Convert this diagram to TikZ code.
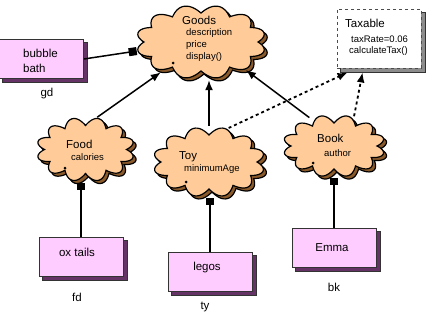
\documentclass[tikz,border=0pt]{standalone}
\usepackage{fontspec}
\setmainfont{Liberation Sans}
\usetikzlibrary{arrows.meta,shapes.geometric,backgrounds}
\definecolor{peach}{HTML}{FFCC99}
\definecolor{cbrown}{HTML}{8B5A2B}
\definecolor{boxpink}{HTML}{FFCCFF}
\definecolor{boxshade}{HTML}{663366}
\newcommand\wavy[5]{plot[domain=0:358,samples=180,smooth cycle] ({#1+(#3-8+8*abs(sin(#5*\x)))*cos(\x)},{#2+(#4-8+8*abs(sin(#5*\x)))*sin(\x)})}
\newcommand\drawcloud[5]{%
  \draw[fill=cbrown,line width=1.2pt,shift={(3,3)}] \wavy{#1}{#2}{#3}{#4}{#5};
  \draw[fill=peach,line width=1.2pt] \wavy{#1}{#2}{#3}{#4}{#5};}
\newcommand\boxshadow[2]{%
  \begin{scope}[on background layer]
  \draw[fill=#2,draw=black!80,line width=0.8pt] ([xshift=3.5pt,yshift=-3.5pt]#1.south west) rectangle ([xshift=3.5pt,yshift=-3.5pt]#1.north east);
  \end{scope}}
\tikzset{
  cloudnode/.style={ellipse,draw=none,inner sep=0pt},
  namefont/.style={font=\fontsize{11.5}{13}\selectfont,inner sep=0pt},
  attrfont/.style={font=\fontsize{9.5}{11}\selectfont,inner sep=0pt},
  objbox/.style={draw=black!80,fill=boxpink,line width=0.8pt,minimum width=84pt,minimum height=39pt,inner sep=0pt},
  taxbox/.style={draw=black!70,dashed,fill=white,line width=0.9pt,minimum width=84pt,minimum height=59pt,inner sep=0pt},
  inherit/.style={line width=1.5pt,-{Latex[length=10pt,width=8pt]}},
  realize/.style={line width=1.8pt,dash pattern=on 3pt off 3pt,-{Latex[length=10pt,width=8pt]}},
  compose/.style={line width=1.5pt,-{Square[length=7pt,width=8pt]}},
  cdot/.style={circle,fill=black,inner sep=0pt,minimum size=3pt}
}
\begin{document}
\begin{tikzpicture}[x=1pt,y=-1pt]
\useasboundingbox (0,0) rectangle (427,313);
% clouds
\drawcloud{201}{42}{65}{37}{6}
\drawcloud{85.5}{149.5}{49}{32}{6}
\drawcloud{209}{162}{56}{35}{6}
\drawcloud{334}{146}{51}{31}{6}
\node[cdot] (gdot) at (173,63) {};
\node[cdot] (fdot) at (65,168) {};
\node[cdot] (tdot) at (186,182) {};
\node[cdot] (bdot) at (313,163) {};
\node[cloudnode,minimum width=132pt,minimum height=76pt] (goods) at (201,42) {};
\node[cloudnode,minimum width=100pt,minimum height=66pt] (food) at (85.5,149.5) {};
\node[cloudnode,minimum width=114pt,minimum height=72pt] (toy) at (209,162) {};
\node[cloudnode,minimum width=104pt,minimum height=64pt] (book) at (334,146) {};
% cloud texts
\node[namefont,anchor=west] (goodsN) at (182,20) {Goods};
\node[attrfont,anchor=west] (goodsA1) at (186,33) {description};
\node[attrfont,anchor=west] (goodsA2) at (186,45) {price};
\node[attrfont,anchor=west] (goodsA3) at (186,57) {display()};
\node[namefont,anchor=west] (foodN) at (66,144) {Food};
\node[attrfont,anchor=west] (foodA) at (71,157) {calories};
\node[namefont,anchor=west] (toyN) at (179,157) {Toy};
\node[attrfont,anchor=west] (toyA) at (184,169) {minimumAge};
\node[namefont,anchor=west] (bookN) at (317,138) {Book};
\node[attrfont,anchor=west] (bookA) at (324,153) {author};
% Taxable
\node[taxbox] (taxable) at (379,38.5) {};
\boxshadow{taxable}{black!45}
\node[namefont,anchor=west] (taxN) at (345,23) {Taxable};
\node[attrfont,anchor=west] (taxA1) at (351,39) {taxRate=0.06};
\node[attrfont,anchor=west] (taxA2) at (349,51) {calculateTax()};
% object boxes
\node[objbox] (bubble) at (41.5,59) {};
\boxshadow{bubble}{boxshade}
\node[namefont,anchor=west] (bubbleT1) at (23,53) {bubble};
\node[namefont,anchor=west] (bubbleT2) at (23,68) {bath};
\node[namefont] (gd) at (47,94) {gd};
\node[objbox] (ox) at (81,257) {};
\boxshadow{ox}{boxshade}
\node[namefont] (oxT) at (77,252) {ox tails};
\node[namefont] (fd) at (77,297) {fd};
\node[objbox] (legos) at (210,272) {};
\boxshadow{legos}{boxshade}
\node[namefont] (legosT) at (207,268) {legos};
\node[namefont] (ty) at (205,307) {ty};
\node[objbox] (emma) at (334,248) {};
\boxshadow{emma}{boxshade}
\node[namefont] (emmaT) at (332,248) {Emma};
\node[namefont] (bk) at (334,287) {bk};
% connectors
\draw[compose,-{Square[length=8pt,width=8pt]}] (bubble.east) -- (goods.188);
\draw[inherit] (food.70) -- (goods.217);
\draw[inherit] (toy.north) -- (toy.north |- goods.south);
\draw[inherit] (book.131) -- (goods.328);
\draw[realize] (toy.60) -- ([xshift=11pt,yshift=-4pt]taxable.south west);
\draw[realize] (book.56) -- ([xshift=26pt,yshift=-4pt]taxable.south west);
\draw[compose] (ox.north) -- (ox.north |- food.south);
\draw[compose] (legos.north) -- (legos.north |- toy.south);
\draw[compose] (emma.north) -- (emma.north |- book.south);
\end{tikzpicture}
\end{document}
